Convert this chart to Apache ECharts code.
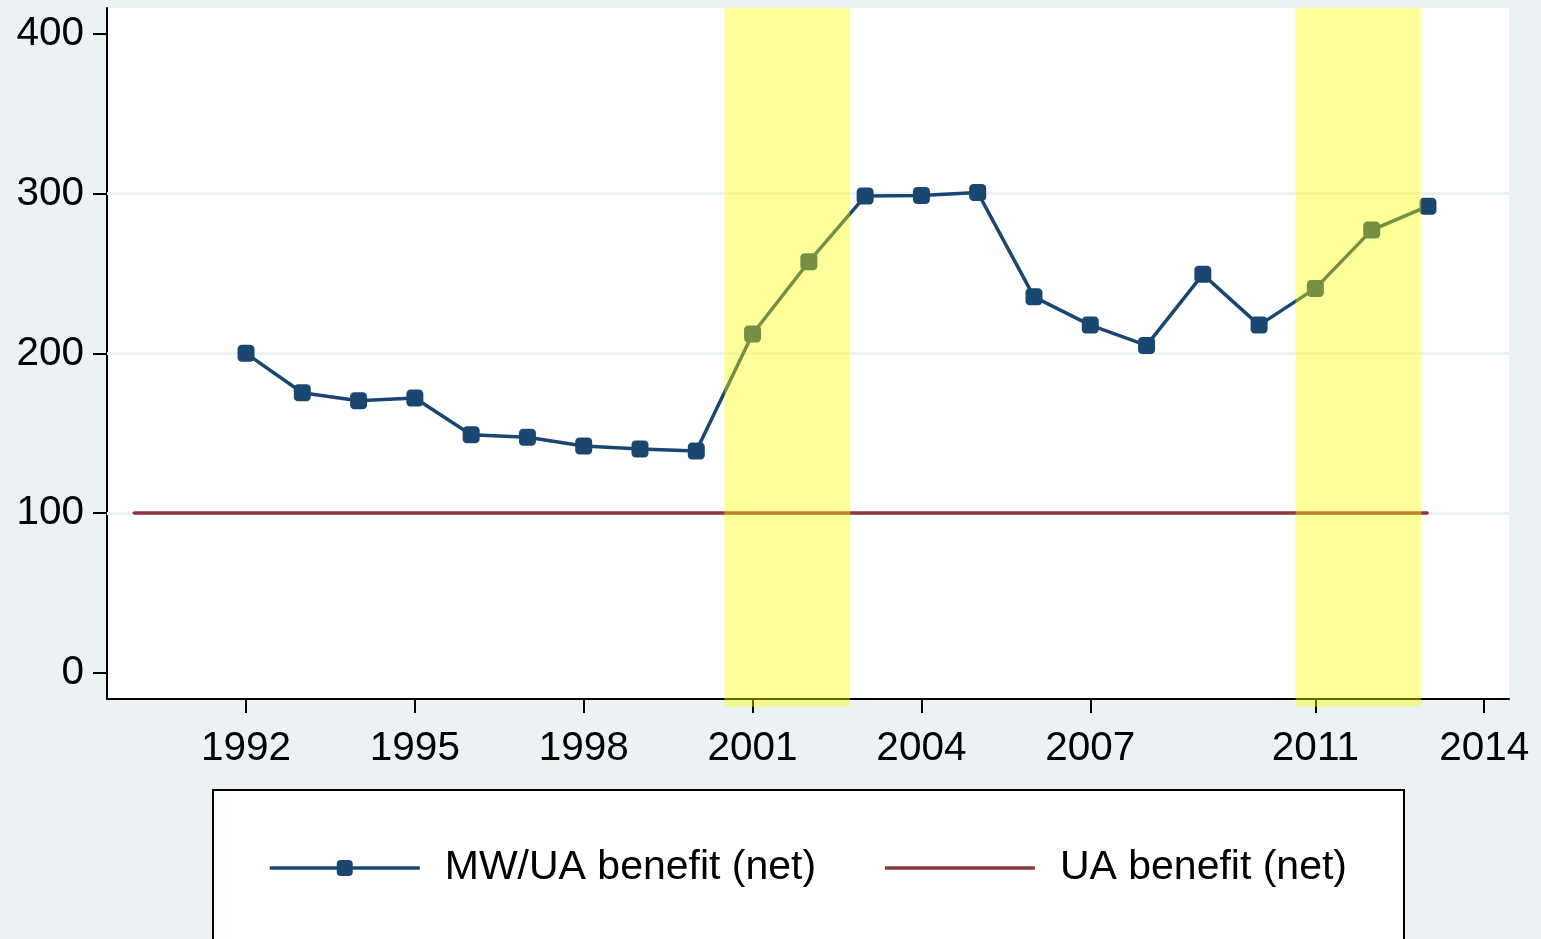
<!DOCTYPE html>
<html>
<head>
<meta charset="utf-8">
<title>MW/UA benefit</title>
<script src="https://cdn.jsdelivr.net/npm/echarts@6/dist/echarts.min.js"></script>
<style>
  html, body { margin: 0; padding: 0; background: #EAF2F3; }
  #chart { width: 1541px; height: 939px; }
</style>
</head>
<body>
<div id="chart"></div>
<script>
// data
const years = [1992, 1993, 1994, 1995, 1996, 1997, 1998, 1999, 2000, 2001, 2002,
  2003, 2004, 2005, 2006, 2007, 2008, 2009, 2010, 2011, 2012, 2013]
const mwuaBenefit = [200.0, 175.3, 170.3, 172.0, 149.0, 147.4, 142.0, 140.1, 138.8, 212.1, 257.4,
  298.5, 298.9, 300.8, 235.4, 217.7, 205.0, 249.5, 217.7, 240.7, 277.2, 292.2]
const uaYears = [1990, 1991, 1992, 1993, 1994, 1995, 1996, 1997, 1998, 1999, 2000, 2001,
  2002, 2003, 2004, 2005, 2006, 2007, 2008, 2009, 2010, 2011, 2012, 2013]
const uaBenefit = [100, 100, 100, 100, 100, 100, 100, 100, 100, 100, 100, 100,
  100, 100, 100, 100, 100, 100, 100, 100, 100, 100, 100, 100]
// shaded periods (start, end)
const shadeStart = [2000.5, 2010.65]
const shadeEnd = [2002.73, 2012.88]
const xTicks = [1992, 1995, 1998, 2001, 2004, 2007, 2011, 2014]
const yTicks = [0, 100, 200, 300, 400]
const gridValues = [100, 200, 300]

const FONT = '"Liberation Sans", Arial, Helvetica, sans-serif'
const NAVY = '#1A476F'
const MAROON = '#90353B'
const Y_MIN = -16.47
const Y_MAX = 416.3

const chart = echarts.init(document.getElementById('chart'), null, { renderer: 'canvas' })

chart.setOption({
  animation: false,
  backgroundColor: '#EAF2F3',
  textStyle: { fontFamily: FONT },
  grid: {
    left: 107,
    top: 8,
    right: 32,
    bottom: 240,
    show: true,
    backgroundColor: '#fff',
    borderWidth: 0
  },
  xAxis: {
    type: 'value',
    min: 1989.53,
    max: 2014.44,
    axisLine: { show: true, onZero: false, lineStyle: { color: '#000', width: 2 } },
    axisTick: { show: true, length: 14, customValues: xTicks, lineStyle: { color: '#000', width: 2 } },
    axisLabel: {
      customValues: xTicks,
      formatter: v => String(v),
      color: '#000',
      fontSize: 40.5,
      fontFamily: FONT,
      margin: 29
    },
    splitLine: { show: false }
  },
  yAxis: {
    type: 'value',
    min: Y_MIN,
    max: Y_MAX,
    axisLine: { show: true, onZero: false, lineStyle: { color: '#000', width: 2 } },
    axisTick: { show: true, length: 14, customValues: yTicks, lineStyle: { color: '#000', width: 2 } },
    axisLabel: {
      customValues: yTicks,
      formatter: v => String(v),
      color: '#000',
      fontSize: 40.5,
      fontFamily: FONT,
      margin: 23,
      padding: [10, 0, 0, 0]
    },
    splitLine: { show: false }
  },
  legend: {
    data: [
      'MW/UA benefit (net)',
      { name: 'UA benefit (net)', itemStyle: { opacity: 0 } }
    ],
    left: 268,
    top: 844,
    padding: 0,
    itemWidth: 150,
    itemHeight: 20,
    itemGap: 67,
    lineStyle: { width: 3.5 },
    textStyle: { fontSize: 41, color: '#000', fontFamily: FONT, lineHeight: 48, padding: [0, 0, 0, 20] }
  },
  graphic: [{
    type: 'rect',
    z: -1,
    shape: { x: 213, y: 790, width: 1191, height: 200 },
    style: { fill: '#fff', stroke: '#000', lineWidth: 2 }
  }],
  series: [
    {
      // light horizontal grid lines
      type: 'line',
      data: [],
      z: 1,
      markLine: {
        silent: true,
        z: 1,
        symbol: ['none', 'none'],
        label: { show: false },
        lineStyle: { color: '#EAF2F3', width: 3, type: 'solid' },
        data: gridValues.map(v => ({ yAxis: v }))
      }
    },
    {
      name: 'UA benefit (net)',
      type: 'line',
      z: 3,
      symbol: 'circle',
      symbolSize: 2,
      data: uaYears.map((y, i) => [y, uaBenefit[i]]),
      lineStyle: { color: MAROON, width: 3.5 },
      itemStyle: { color: MAROON }
    },
    {
      name: 'MW/UA benefit (net)',
      type: 'line',
      z: 4,
      symbol: 'roundRect',
      symbolSize: 17,
      data: years.map((y, i) => [y, mwuaBenefit[i]]),
      lineStyle: { color: NAVY, width: 3.5 },
      itemStyle: { color: NAVY }
    },
    {
      type: 'custom',
      z: 10,
      silent: true,
      clip: false,
      encode: { x: [0, 1], y: 2 },
      data: shadeStart.map((s, i) => [s, shadeEnd[i], 0]),
      renderItem: (params, api) => {
        const p0 = api.coord([api.value(0), Y_MAX])
        const p1 = api.coord([api.value(1), -21.3])
        return {
          type: 'rect',
          shape: { x: p0[0], y: p0[1], width: p1[0] - p0[0], height: p1[1] - p0[1] },
          style: { fill: 'rgba(255,255,0,0.4)' }
        }
      }
    }
  ]
})
</script>
</body>
</html>
